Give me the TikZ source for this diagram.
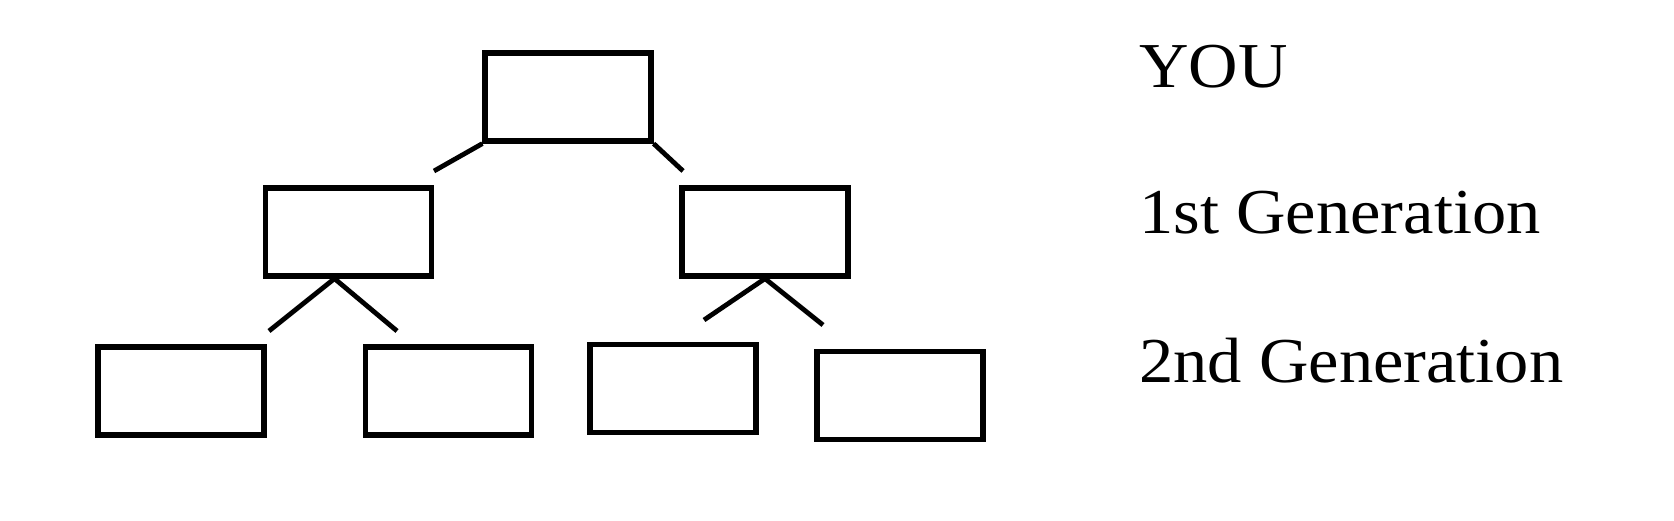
\documentclass[tikz,border=0pt]{standalone}
\usepackage{fontspec}
\setmainfont[FakeStretch=1.07]{Liberation Serif}
\begin{document}
\begin{tikzpicture}[x=0.5pt,y=-0.5pt,
  person/.style={draw=black,line width=2.6pt,minimum width=83pt,minimum height=44pt,inner sep=0pt,fill=white},
  link/.style={draw=black,line width=2.4pt},
  gen/.style={anchor=base west,inner sep=0pt,font=\fontsize{32}{32}\selectfont}]
\useasboundingbox[fill=white] (0,0) rectangle (1674,520);
% boxes
\node[person] (you) at (568,97) {};
\node[person] (l1) at (348.5,232) {};
\node[person] (r1) at (765,232) {};
\node[person] (a) at (181,391) {};
\node[person] (b) at (448.5,391) {};
\node[person] (c) at (673,388.5) {};
\node[person] (d) at (900,395.5) {};
% free ends
\coordinate (e1) at (434,171);
\coordinate (e2) at (683,171);
\coordinate (e3) at (269,331);
\coordinate (e4) at (397,331);
\coordinate (e5) at (704,320);
\coordinate (e6) at (823,325);
% connectors
\draw[link] (you.south west) -- (e1);
\draw[link] (you.south east) -- (e2);
\draw[link] ([xshift=-7pt]l1.south) -- (e3);
\draw[link] ([xshift=-7pt]l1.south) -- (e4);
\draw[link] (r1.south) -- (e5);
\draw[link] (r1.south) -- (e6);
% labels
\node[gen] (t0) at (1139,87) {YOU};
\node[gen] (t1) at (1139,233) {1st Generation};
\node[gen] (t2) at (1139,382) {2nd Generation};
\end{tikzpicture}
\end{document}
